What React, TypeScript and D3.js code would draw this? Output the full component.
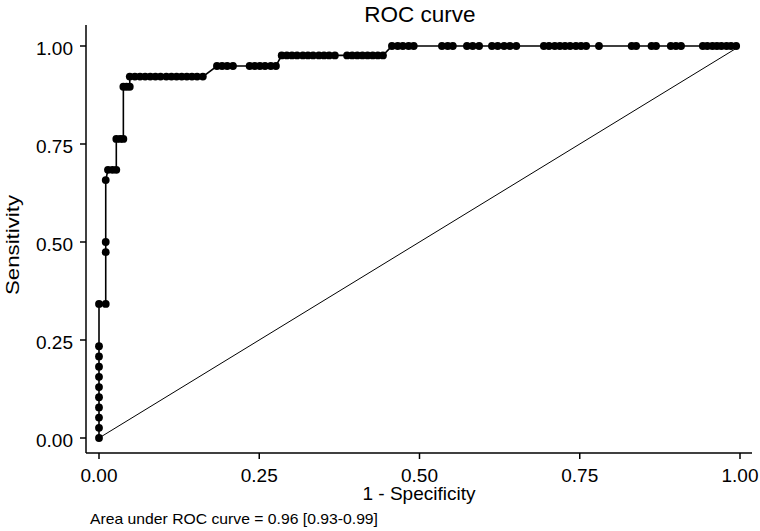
import React from "react";
import * as d3 from "d3";

// ROC curve points (1 - specificity, sensitivity), in drawing order
const fpr: number[] = [
  0, 0, 0, 0, 0, 0, 0, 0, 0, 0,
  0, 0.0105,
  0.0105, 0.0105, 0.0105,
  0.014, 0.021, 0.027,
  0.027, 0.033, 0.038,
  0.038, 0.043, 0.048,
  0.048, 0.056, 0.064, 0.072, 0.080, 0.088, 0.096, 0.105, 0.113, 0.121, 0.129, 0.137, 0.145, 0.153, 0.162,
  0.184, 0.192, 0.200, 0.209,
  0.235, 0.243, 0.251, 0.259, 0.268, 0.276,
  0.285, 0.293, 0.301, 0.309, 0.318, 0.326, 0.334, 0.343, 0.351, 0.359, 0.368,
  0.387, 0.395, 0.403, 0.411, 0.419, 0.427, 0.435, 0.443,
  0.457, 0.466, 0.474, 0.483, 0.491,
  0.535, 0.544, 0.552,
  0.574, 0.583, 0.593,
  0.613, 0.622, 0.632, 0.641, 0.651,
  0.694, 0.702, 0.711, 0.719, 0.727, 0.735, 0.744, 0.752, 0.760,
  0.780,
  0.831, 0.838,
  0.862, 0.869,
  0.892, 0.900, 0.908,
  0.942, 0.949, 0.957, 0.964, 0.971, 0.979, 0.986, 0.994,
];
const tpr: number[] = [
  0, 0.026, 0.052, 0.078, 0.104, 0.13, 0.156, 0.182, 0.208, 0.234,
  0.342, 0.342,
  0.474, 0.5, 0.658,
  0.684, 0.684, 0.684,
  0.763, 0.763, 0.763,
  0.896, 0.896, 0.896,
  0.922, 0.922, 0.922, 0.922, 0.922, 0.922, 0.922, 0.922, 0.922, 0.922, 0.922, 0.922, 0.922, 0.922, 0.922,
  0.949, 0.949, 0.949, 0.949,
  0.949, 0.949, 0.949, 0.949, 0.949, 0.949,
  0.976, 0.976, 0.976, 0.976, 0.976, 0.976, 0.976, 0.976, 0.976, 0.976, 0.976,
  0.976, 0.976, 0.976, 0.976, 0.976, 0.976, 0.976, 0.976,
  1, 1, 1, 1, 1,
  1, 1, 1,
  1, 1, 1,
  1, 1, 1, 1, 1,
  1, 1, 1, 1, 1, 1, 1, 1, 1,
  1,
  1, 1,
  1, 1,
  1, 1, 1,
  1, 1, 1, 1, 1, 1, 1, 1,
];

const xTicks: number[] = [0, 0.25, 0.5, 0.75, 1];
const yTicks: number[] = [0, 0.25, 0.5, 0.75, 1];
const diagonal: [number, number][] = [[0, 0], [1, 1]];

const title = "ROC curve";
const xLabel = "1 - Specificity";
const yLabel = "Sensitivity";
const note = "Area under ROC curve = 0.96 [0.93-0.99]";

const W = 760;
const H = 531;
const FONT = "'Liberation Sans', Arial, Helvetica, sans-serif";

export default function App() {
  const x = d3.scaleLinear().domain([0, 1]).range([99, 740]);
  const y = d3.scaleLinear().domain([0, 1]).range([438, 46]);
  const pts: [number, number][] = fpr.map((f, i) => [f, tpr[i]]);
  const line = d3
    .line<[number, number]>()
    .x((d) => x(d[0]))
    .y((d) => y(d[1]));
  const fmt = d3.format(".2f");

  const axisX0 = 86;
  const axisY0 = 453;

  return (
    <svg
      width={W}
      height={H}
      style={{ position: "absolute", left: 0, top: 0, background: "#fff" }}
      fontFamily={FONT}
    >
      <rect x={0} y={0} width={W} height={H} fill="#fff" />
      {/* title */}
      <text x={420} y={22} fontSize={22.5} textAnchor="middle" fill="#000">
        {title}
      </text>

      {/* y axis */}
      <line x1={axisX0} x2={axisX0} y1={25} y2={axisY0} stroke="#000" strokeWidth={1.5} />
      {yTicks.map((t) => (
        <g key={"y" + t}>
          <line x1={axisX0 - 6} x2={axisX0} y1={y(t)} y2={y(t)} stroke="#000" strokeWidth={1.5} />
          <text x={73} y={y(t) + 9} fontSize={19} textAnchor="end" fill="#000">
            {fmt(t)}
          </text>
        </g>
      ))}
      {/* x axis */}
      <line x1={axisX0} x2={752} y1={axisY0} y2={axisY0} stroke="#000" strokeWidth={1.5} />
      {xTicks.map((t) => (
        <g key={"x" + t}>
          <line x1={x(t)} x2={x(t)} y1={axisY0} y2={axisY0 + 6} stroke="#000" strokeWidth={1.5} />
          <text x={x(t)} y={482} fontSize={19} textAnchor="middle" fill="#000">
            {fmt(t)}
          </text>
        </g>
      ))}

      {/* axis titles */}
      <text x={419} y={500} fontSize={19} textAnchor="middle" fill="#000">
        {xLabel}
      </text>
      <text
        transform={`translate(19,245) rotate(-90)`}
        fontSize={19}
        textAnchor="middle"
        fill="#000"
        textLength={100}
        lengthAdjust="spacingAndGlyphs"
      >
        {yLabel}
      </text>

      {/* reference diagonal */}
      <path d={line(diagonal) || ""} fill="none" stroke="#000" strokeWidth={1} />

      {/* ROC curve */}
      <path d={line(pts) || ""} fill="none" stroke="#000" strokeWidth={1.6} />
      {pts.map((d, i) => (
        <circle key={i} cx={x(d[0])} cy={y(d[1])} r={3.9} fill="#000" />
      ))}

      {/* AUC note */}
      <text
        x={90}
        y={524}
        fontSize={14.5}
        fill="#000"
        textLength={288}
        lengthAdjust="spacingAndGlyphs"
      >
        {note}
      </text>
    </svg>
  );
}
